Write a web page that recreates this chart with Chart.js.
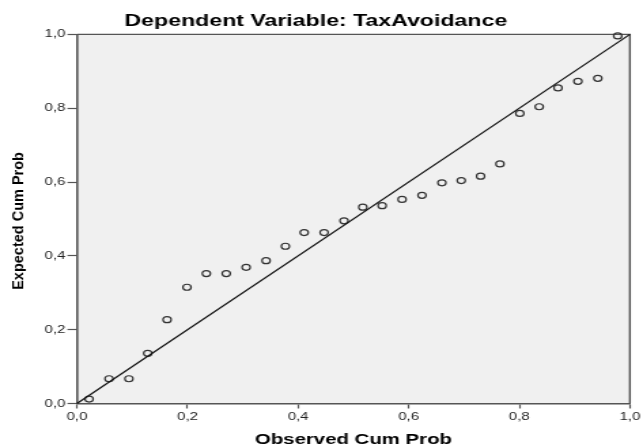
<!DOCTYPE html>
<html>
<head>
<meta charset="utf-8">
<script src="https://cdn.jsdelivr.net/npm/chart.js@4.4.1/dist/chart.umd.min.js"></script>
<style>
  html, body { margin: 0; padding: 0; background: #ffffff; overflow: hidden; }
  #wrap { width: 473px; height: 447px; transform: scaleX(1.3594); transform-origin: 0 0; }
</style>
</head>
<body>
<div id="wrap"><canvas id="c" width="473" height="447"></canvas></div>
<script>
// Observed cumulative probability (x) and expected cumulative probability (y)
const observedCumProb = [0.022, 0.058, 0.094, 0.128, 0.163, 0.199, 0.234, 0.270, 0.306, 0.342,
                         0.377, 0.411, 0.447, 0.483, 0.517, 0.552, 0.588, 0.624, 0.660, 0.695,
                         0.730, 0.765, 0.801, 0.836, 0.870, 0.906, 0.942, 0.978];
const expectedCumProb = [0.012, 0.067, 0.067, 0.136, 0.227, 0.315, 0.352, 0.352, 0.369, 0.387,
                         0.426, 0.463, 0.463, 0.495, 0.532, 0.536, 0.553, 0.564, 0.598, 0.604,
                         0.616, 0.649, 0.786, 0.804, 0.855, 0.873, 0.881, 0.996];
const referenceLineX = [0, 1];
const referenceLineY = [0, 1];
const tickLabels = ['0,0', '0,2', '0,4', '0,6', '0,8', '1,0'];
const chartTitle = 'Dependent Variable: TaxAvoidance';
const xTitle = 'Observed Cum Prob';
const yTitle = 'Expected Cum Prob';

const STRETCH = 1.3594;
const points = observedCumProb.map((x, i) => ({ x: x, y: expectedCumProb[i] }));
const linePts = referenceLineX.map((x, i) => ({ x: x, y: referenceLineY[i] }));

const frame = {
  id: 'frame',
  beforeDraw(chart) {
    const { ctx, chartArea: a } = chart;
    ctx.save();
    ctx.fillStyle = '#f0f0f0';
    ctx.fillRect(a.left, a.top, a.right - a.left, a.bottom - a.top);
    ctx.restore();
  },
  beforeDatasetsDraw(chart) {
    const { ctx, chartArea: a } = chart;
    ctx.save();
    ctx.strokeStyle = '#555555';
    ctx.lineWidth = 1.4;
    ctx.beginPath();
    ctx.moveTo(a.left, a.top);
    ctx.lineTo(a.right, a.top);
    ctx.lineTo(a.right, a.bottom);
    ctx.stroke();
    ctx.restore();
  },
  afterDraw(chart) {
    // y-axis title, drawn un-stretched so its glyphs keep normal proportions
    const { ctx, chartArea: a } = chart;
    ctx.save();
    ctx.translate(14.3, (a.top + a.bottom) / 2 + 2);
    ctx.scale(1 / STRETCH, 1);
    ctx.rotate(-Math.PI / 2);
    ctx.font = 'bold 14.5px "Liberation Sans", Arial, sans-serif';
    ctx.textAlign = 'center';
    ctx.textBaseline = 'middle';
    ctx.fillStyle = '#000000';
    ctx.fillText(yTitle, 0, 0);
    ctx.restore();
  }
};

const fmt = (v) => {
  const i = Math.round(v * 5);
  return tickLabels[i] !== undefined ? tickLabels[i] : '';
};

new Chart(document.getElementById('c'), {
  type: 'scatter',
  data: {
    datasets: [
      {
        type: 'line',
        data: linePts,
        borderColor: '#111111',
        borderWidth: 1.2,
        pointRadius: 0,
        fill: false,
        clip: false
      },
      {
        data: points,
        pointStyle: 'circle',
        pointRadius: 3,
        borderColor: '#333333',
        backgroundColor: 'rgba(0,0,0,0)',
        borderWidth: 1.2,
        clip: false
      }
    ]
  },
  plugins: [frame],
  options: {
    responsive: false,
    animation: false,
    devicePixelRatio: 1,
    layout: { padding: { top: 0, right: 8.3, bottom: 0, left: 0 } },
    plugins: {
      legend: { display: false },
      tooltip: { enabled: false },
      title: {
        display: true,
        text: chartTitle,
        color: '#000000',
        font: { family: 'Liberation Sans, Arial, sans-serif', size: 17, weight: 'bold', lineHeight: 1.2 },
        padding: { top: 11, bottom: 3 }
      }
    },
    scales: {
      x: {
        type: 'linear',
        min: 0, max: 1,
        afterFit(scale) { scale.height = 43.5; },
        ticks: {
          stepSize: 0.2,
          callback: fmt,
          color: '#222222',
          padding: 2,
          maxRotation: 0,
          font: { family: 'Liberation Sans, Arial, sans-serif', size: 11 }
        },
        grid: { display: true, drawOnChartArea: false, drawTicks: true, tickLength: 5, tickColor: '#555555', tickWidth: 1.2 },
        border: { display: true, color: '#555555', width: 1.5 },
        title: {
          display: true,
          text: xTitle,
          color: '#000000',
          padding: { top: 0, bottom: 0 },
          font: { family: 'Liberation Sans, Arial, sans-serif', size: 15, weight: 'bold', lineHeight: 1 }
        }
      },
      y: {
        type: 'linear',
        min: 0, max: 1,
        afterFit(scale) { scale.width = 56.6; },
        ticks: {
          stepSize: 0.2,
          callback: fmt,
          color: '#222222',
          padding: 1.5,
          font: { family: 'Liberation Sans, Arial, sans-serif', size: 11 }
        },
        grid: { display: true, drawOnChartArea: false, drawTicks: true, tickLength: 7, tickColor: '#555555', tickWidth: 1.2 },
        border: { display: true, color: '#555555', width: 1.6 },
        title: { display: false, text: yTitle }
      }
    }
  }
});
</script>
</body>
</html>
